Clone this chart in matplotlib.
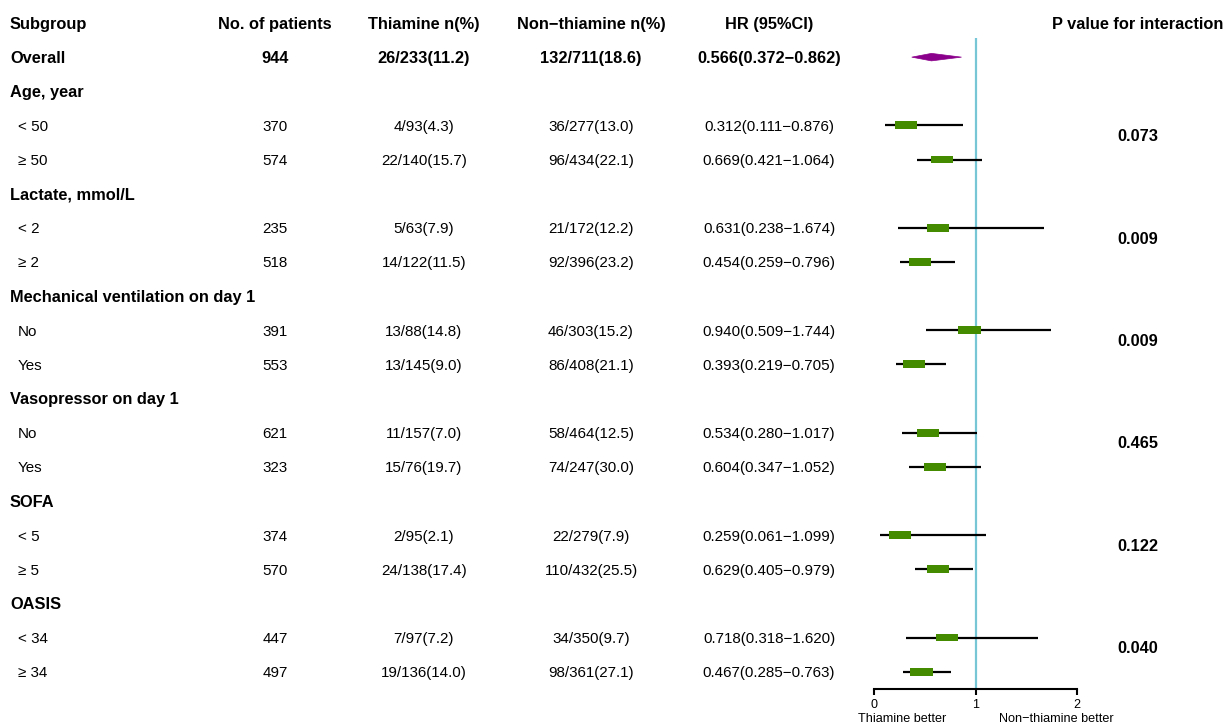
import numpy as np
import matplotlib.pyplot as plt
from matplotlib.patches import Rectangle, Polygon
from matplotlib import transforms

plt.rcParams['font.family'] = ['Liberation Sans', 'DejaVu Sans']

# ---- table content ----
columns = ["Subgroup", "No. of patients", "Thiamine n(%)", "Non\u2212thiamine n(%)",
           "HR (95%CI)", "P value for interaction"]

labels = ["Overall",
          "Age, year", "< 50", "\u2265 50",
          "Lactate, mmol/L", "< 2", "\u2265 2",
          "Mechanical ventilation on day 1", "No", "Yes",
          "Vasopressor on day 1", "No", "Yes",
          "SOFA", "< 5", "\u2265 5",
          "OASIS", "< 34", "\u2265 34"]
# row kind: 0 = overall, 1 = group heading, 2 = subgroup level
kinds = [0, 1, 2, 2, 1, 2, 2, 1, 2, 2, 1, 2, 2, 1, 2, 2, 1, 2, 2]

patients = ["944", "", "370", "574", "", "235", "518", "", "391", "553",
            "", "621", "323", "", "374", "570", "", "447", "497"]
thiamine = ["26/233(11.2)", "", "4/93(4.3)", "22/140(15.7)", "", "5/63(7.9)",
            "14/122(11.5)", "", "13/88(14.8)", "13/145(9.0)", "", "11/157(7.0)",
            "15/76(19.7)", "", "2/95(2.1)", "24/138(17.4)", "", "7/97(7.2)",
            "19/136(14.0)"]
non_thiamine = ["132/711(18.6)", "", "36/277(13.0)", "96/434(22.1)", "",
                "21/172(12.2)", "92/396(23.2)", "", "46/303(15.2)", "86/408(21.1)",
                "", "58/464(12.5)", "74/247(30.0)", "", "22/279(7.9)",
                "110/432(25.5)", "", "34/350(9.7)", "98/361(27.1)"]

nan = np.nan
hr = [0.566, nan, 0.312, 0.669, nan, 0.631, 0.454, nan, 0.940, 0.393,
      nan, 0.534, 0.604, nan, 0.259, 0.629, nan, 0.718, 0.467]
ci_low = [0.372, nan, 0.111, 0.421, nan, 0.238, 0.259, nan, 0.509, 0.219,
          nan, 0.280, 0.347, nan, 0.061, 0.405, nan, 0.318, 0.285]
ci_high = [0.862, nan, 0.876, 1.064, nan, 1.674, 0.796, nan, 1.744, 0.705,
           nan, 1.017, 1.052, nan, 1.099, 0.979, nan, 1.620, 0.763]

# interaction p-values, one per grouping variable (index of its first level row)
p_rows = [2, 5, 8, 11, 14, 17]
p_values = ["0.073", "0.009", "0.009", "0.465", "0.122", "0.040"]

x_ticks = [0, 1, 2]
side_labels = ["Thiamine better", "Non\u2212thiamine better"]

# ---- styling ----
GREEN = "#458B00"
PURPLE = "#8B008B"
REF_BLUE = "#76C6D6"
FS_BOLD = 11.8
FS_REG = 10.9
CAP = 0.716  # cap height of Liberation Sans, in em

W, H = 1225, 726
ROW0 = 23.0       # header row centre (px from top)
ROW_H = 34.14     # row pitch (px)

def row_of_px(px):
    return (px - ROW0) / ROW_H

def half_cap_rows(fs):
    # half the cap height, expressed in row units, to centre caps on a row
    return fs / 72 * 100 * CAP / 2 / ROW_H

fig = plt.figure(figsize=(W / 100, H / 100), dpi=100)

# full-figure axes for the text table: x in px, y in row units
tab = fig.add_axes([0, 0, 1, 1])
tab.set_xlim(0, W)
tab.set_ylim(row_of_px(H), row_of_px(0))
tab.axis("off")

def put(x, r, s, ha, bold):
    fs = FS_BOLD if bold else FS_REG
    tab.text(x, r + half_cap_rows(fs), s, ha=ha, va="baseline", fontsize=fs,
             fontweight="bold" if bold else "normal")

col_x = [10, 275, 424, 591, 769, 1138]
col_ha = ["left", "center", "center", "center", "center", "center"]

for x, ha, name in zip(col_x, col_ha, columns):
    put(x, 0, name, ha, True)

for i, lab in enumerate(labels):
    r = i + 1
    bold = kinds[i] in (0, 1)
    lx = 10 if kinds[i] != 2 else 18
    put(lx, r, lab, "left", bold)
    if kinds[i] == 1:
        continue
    put(col_x[1], r, patients[i], "center", bold)
    put(col_x[2], r, thiamine[i], "center", bold)
    put(col_x[3], r, non_thiamine[i], "center", bold)
    hr_txt = f"{hr[i]:.3f}({ci_low[i]:.3f}\u2212{ci_high[i]:.3f})"
    put(col_x[4], r, hr_txt, "center", bold)

for pr, pv in zip(p_rows, p_values):
    put(col_x[5], pr + 1 + 0.29, pv, "center", True)

# ---- forest panel ----
x0_px, x2_px = 874, 1077
top_px, axis_px = 38, 689
ax = fig.add_axes([x0_px / W, (H - axis_px) / H, (x2_px - x0_px) / W,
                   (axis_px - top_px) / H])
ax.set_xlim(0, 2)
ax.set_ylim(row_of_px(axis_px), row_of_px(top_px))
ax.patch.set_alpha(0)
for s in ("top", "right", "left"):
    ax.spines[s].set_visible(False)
ax.spines["bottom"].set_linewidth(1.5)
ax.set_yticks([])
ax.set_xticks(x_ticks)
ax.tick_params(axis="x", length=4, width=1.5, labelsize=9.0, pad=3.0)

ax.axvline(1, color=REF_BLUE, lw=1.6, zorder=0)

box_w, box_h = 0.22, 0.23
diam_h = 0.11
for i in range(len(labels)):
    if np.isnan(hr[i]):
        continue
    r = i + 1
    if kinds[i] == 0:
        ax.add_patch(Polygon([(ci_low[i], r), (hr[i], r - diam_h),
                              (ci_high[i], r), (hr[i], r + diam_h)],
                             closed=True, facecolor=PURPLE, edgecolor=PURPLE,
                             lw=0.5, zorder=3))
    else:
        ax.plot([ci_low[i], ci_high[i]], [r, r], color="black", lw=1.6,
                solid_capstyle="butt", zorder=2)
        ax.add_patch(Rectangle((hr[i] - box_w / 2, r - box_h / 2), box_w, box_h,
                               facecolor=GREEN, edgecolor="none", zorder=3))

blend = transforms.blended_transform_factory(ax.transData, tab.transData)
tab.text(0.276, row_of_px(722.5), side_labels[0], transform=blend,
         ha="center", va="baseline", fontsize=9.1)
tab.text(1.793, row_of_px(722.5), side_labels[1], transform=blend,
         ha="center", va="baseline", fontsize=9.1)

fig.savefig("out.png", dpi=100)
